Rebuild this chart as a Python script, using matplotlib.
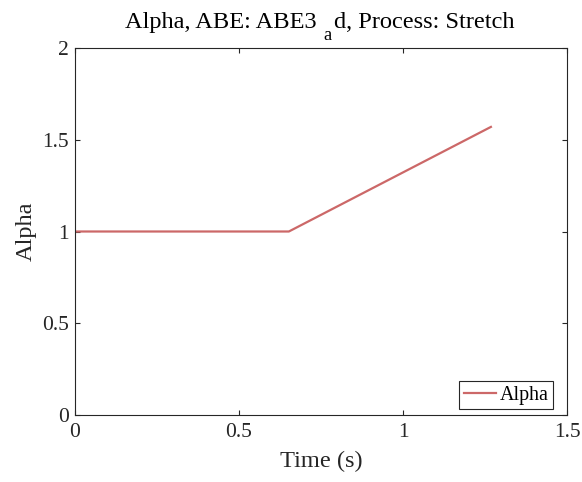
import matplotlib
matplotlib.use("Agg")
import matplotlib.pyplot as plt
from matplotlib.transforms import IdentityTransform

time_s = [0.0, 0.652, 1.268]
alpha = [1.0, 1.0, 1.57]
xticks = [0, 0.5, 1, 1.5]
yticks = [0, 0.5, 1, 1.5, 2]
xticklabels = ['0', '0.5', '1', '1.5']
yticklabels = ['0', '0.5', '1', '1.5', '2']
title_main = 'Alpha, ABE: ABE3'
title_sub = 'a'
title_rest = 'd, Process: Stretch'

plt.rcParams['font.family'] = ['Liberation Serif', 'DejaVu Serif']

W, H = 582, 482
fig = plt.figure(figsize=(W/100, H/100), dpi=100)
ax = fig.add_axes([75/W, 1 - 415/H, (567-75)/W, (415-48)/H])
ax.plot(time_s, alpha, color='#CC6868', linewidth=1.6, label='Alpha')
ax.set_xlim(0, 1.5)
ax.set_ylim(0, 2)
ax.set_xticks(xticks)
ax.set_yticks(yticks)
ax.set_xticklabels(xticklabels)
ax.set_yticklabels(yticklabels)
ax.tick_params(direction='in', top=True, right=True, labelsize=15.5, colors='#262626',
               length=3.5, width=0.8)
ax.tick_params(axis='x', pad=6)
ax.tick_params(axis='y', pad=4.5)
for s in ax.spines.values():
    s.set_color('#262626')
    s.set_linewidth(0.8)
ax.set_xlabel('Time (s)', fontsize=17.6, color='#262626', labelpad=6)
ax.set_ylabel('Alpha', fontsize=17.6, color='#262626', labelpad=4)

# title pieces in pixel coordinates (MATLAB-style subscript)
pix = IdentityTransform()
renderer = fig.canvas.get_renderer()
t1 = fig.text(125, H - 28, title_main, fontsize=17.6, color='black', va='baseline', ha='left', transform=pix)
e1 = t1.get_window_extent(renderer)
t2 = fig.text(e1.x1 + 7, H - 40, title_sub, fontsize=13.2, color='black', va='baseline', ha='left', transform=pix)
e2 = t2.get_window_extent(renderer)
t3 = fig.text(e2.x1 + 2, H - 28, title_rest, fontsize=17.6, color='black', va='baseline', ha='left', transform=pix)

leg = ax.legend(loc='lower right', bbox_to_anchor=(553, H - 409), bbox_transform=pix,
                fontsize=14.4, fancybox=False, edgecolor='#262626', framealpha=1,
                handlelength=1.6, borderpad=0.22, handletextpad=0.2, borderaxespad=0)
leg.get_frame().set_linewidth(0.8)
for t in leg.get_texts():
    t.set_color('black')
fig.savefig('out.png', dpi=100, facecolor='white')
